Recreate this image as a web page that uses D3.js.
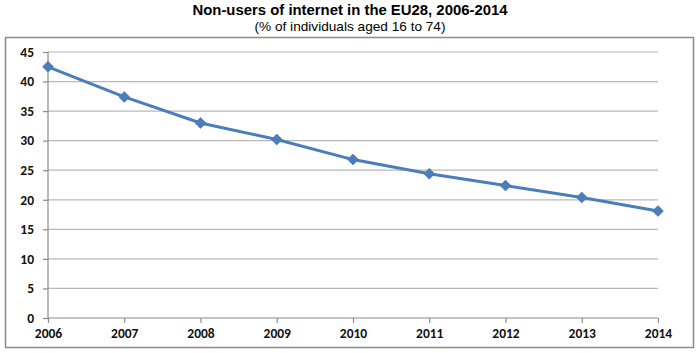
<!DOCTYPE html>
<html>
<head>
<meta charset="utf-8">
<script src="https://cdn.jsdelivr.net/npm/d3@7"></script>
<style>
  body { margin: 0; background: #fff; }
  text { font-family: "Liberation Sans", Arial, sans-serif; }
</style>
</head>
<body>
<div id="chart"></div>
<script>
// Non-users of internet, EU28
const years = [2006, 2007, 2008, 2009, 2010, 2011, 2012, 2013, 2014]
const nonUsers = [42.5, 37.4, 33.0, 30.2, 26.8, 24.4, 22.4, 20.4, 18.1]
const yTicks = [0, 5, 10, 15, 20, 25, 30, 35, 40, 45]

const width = 700, height = 353
const margin = { top: 52, right: 42, bottom: 35, left: 48 }

const svg = d3.select("#chart").append("svg")
    .attr("width", width)
    .attr("height", height)

// outer frame
svg.append("rect")
    .attr("x", 5.5).attr("y", 37.5)
    .attr("width", 688).attr("height", 310)
    .attr("fill", "none")
    .attr("stroke", "#8a8a8a")
    .attr("stroke-width", 1.5)

svg.append("text")
    .attr("x", 350).attr("y", 15)
    .attr("text-anchor", "middle")
    .attr("font-weight", "bold")
    .attr("font-size", 14.5)
    .attr("textLength", 315)
    .attr("lengthAdjust", "spacingAndGlyphs")
    .text("Non-users of internet in the EU28, 2006-2014")

svg.append("text")
    .attr("x", 350).attr("y", 31)
    .attr("text-anchor", "middle")
    .attr("font-size", 13)
    .attr("textLength", 191)
    .attr("lengthAdjust", "spacingAndGlyphs")
    .text("(% of individuals aged 16 to 74)")

let x = d3.scalePoint()
    .domain(years)
    .range([margin.left, width - margin.right])

let y = d3.scaleLinear()
    .domain([0, 45])
    .range([height - margin.bottom, margin.top])

// gridlines
svg.append("g")
    .selectAll("line")
    .data(yTicks.filter(d => d > 0))
    .enter().append("line")
    .attr("x1", margin.left).attr("x2", width - margin.right)
    .attr("y1", d => y(d)).attr("y2", d => y(d))
    .attr("stroke", "#b8b8b8")
    .attr("stroke-width", 1.2)

// y axis
let yAxis = svg.append("g")
    .attr("transform", "translate(" + margin.left + ",0)")
    .call(d3.axisLeft(y).tickValues(yTicks).tickSize(5).tickPadding(9))
yAxis.selectAll("line, path").attr("stroke", "#8a8a8a").attr("stroke-width", 1.2)
yAxis.select(".domain").attr("d", "M0," + y(0) + "V" + y(45))
yAxis.selectAll("text")
    .attr("font-size", 13.5).attr("font-weight", "bold").attr("fill", "#111")
    .style("font-family", "Carlito, 'Liberation Sans', sans-serif")

// x axis
let xAxis = svg.append("g")
    .attr("transform", "translate(0," + y(0) + ")")
    .call(d3.axisBottom(x).tickSize(5).tickPadding(5).tickFormat(d3.format("d")))
xAxis.selectAll("line, path").attr("stroke", "#8a8a8a").attr("stroke-width", 1.2)
xAxis.select(".domain").attr("d", "M" + x(2006) + ",0H" + x(2014))
xAxis.selectAll("text")
    .attr("font-size", 13.5).attr("font-weight", "bold").attr("fill", "#111")
    .style("font-family", "Carlito, 'Liberation Sans', sans-serif")

const pts = years.map((d, i) => ({ year: d, val: nonUsers[i] }))

svg.append("path")
    .datum(pts)
    .attr("fill", "none")
    .attr("stroke", "#4a7ebb")
    .attr("stroke-width", 3)
    .attr("d", d3.line().x(d => x(d.year)).y(d => y(d.val)))

// diamonds: squares turned 45 degrees
svg.append("g")
    .selectAll("path")
    .data(pts)
    .enter().append("path")
    .attr("transform", d => "translate(" + x(d.year) + "," + y(d.val) + ") rotate(45)")
    .attr("d", d3.symbol().type(d3.symbolSquare).size(60))
    .attr("fill", "#4a7ebb")
    .attr("stroke", "#3f6fa8")
    .attr("stroke-width", 0.5)
</script>
</body>
</html>
